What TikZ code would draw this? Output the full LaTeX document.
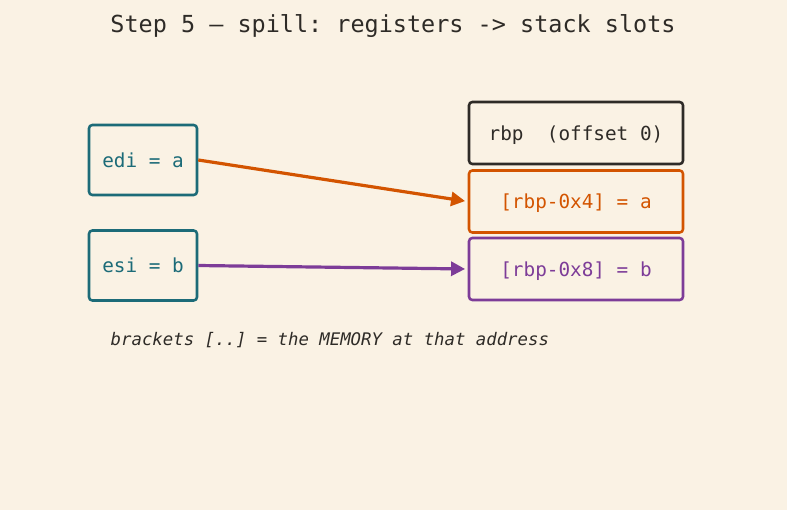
\documentclass[tikz,border=0pt]{standalone}
\usepackage{fontspec}
\setmainfont{DejaVu Sans Mono}
\frenchspacing
\usetikzlibrary{arrows.meta}
\definecolor{paper}{HTML}{FAF2E4}
\definecolor{ink}{HTML}{2E2B27}
\definecolor{regteal}{HTML}{1C6B78}
\definecolor{spillorange}{HTML}{D35400}
\definecolor{spillpurple}{HTML}{7D3C98}
\tikzset{
  box/.style={draw, rounded corners=2.5pt, line width=1.9pt, align=center, text depth=0pt},
  regbox/.style={box, draw=regteal, text=regteal, minimum width=81pt, minimum height=52.5pt, font=\fontsize{14.5}{17}\selectfont},
  slotbox/.style={box, minimum width=160.5pt, minimum height=46.5pt, font=\fontsize{14.5}{17}\selectfont},
  spill/.style={line width=2.4pt, -{Triangle[length=10.5pt,width=10.5pt]}, shorten >=2pt}
}
\begin{document}
\begin{tikzpicture}[x=0.75pt,y=-0.75pt]
	\fill[paper] (0,0) rectangle (787,510);
	\useasboundingbox (0,0) rectangle (787,510);
	
	\node[text=ink, font=\fontsize{17.6}{20}\selectfont] (title) at (393,26) {Step 5 — spill: registers -> stack slots};
	
	\node[regbox] (edi) at (143,160) {edi = a};
	\node[regbox] (esi) at (143,265.5) {esi = b};
	
	\node[slotbox, draw=ink, text=ink] (rbp) at (576,133) {rbp\ \ (offset 0)};
	\node[slotbox, draw=spillorange, text=spillorange] (slota) at (576,201.5) {[rbp-0x4] = a};
	\node[slotbox, draw=spillpurple, text=spillpurple] (slotb) at (576,269) {[rbp-0x8] = b};
	
	\draw[spill, spillorange] (edi.east) -- (slota.west);
	\draw[spill, spillpurple] (esi.east) -- (slotb.west);
	
	\node[anchor=west, text=ink, font=\fontsize{13}{15}\selectfont\itshape] (note) at (106,340) {brackets [..] = the MEMORY at that address};
\end{tikzpicture}
\end{document}
